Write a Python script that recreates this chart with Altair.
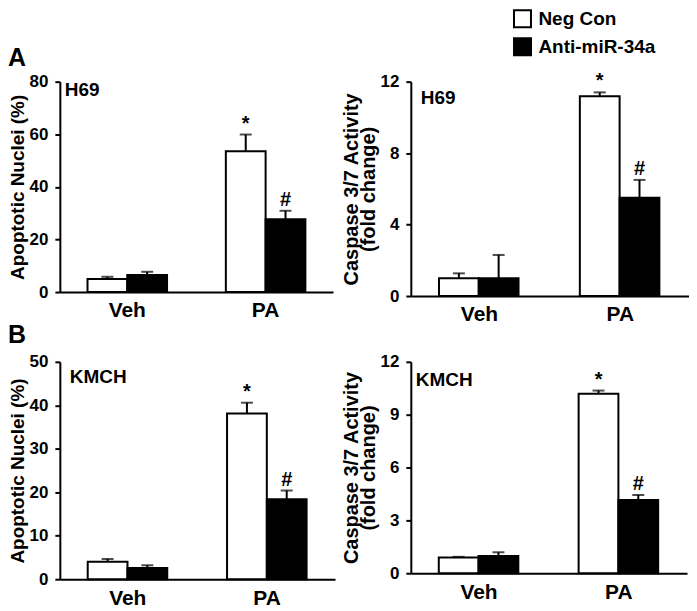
import altair as alt
import pandas as pd

FONT = "Liberation Sans"

groups = ["Veh", "Veh", "PA", "PA"]
treatments = ["Neg Con", "Anti-miR-34a", "Neg Con", "Anti-miR-34a"]
group_order = ["Veh", "PA"]
treat_order = ["Neg Con", "Anti-miR-34a"]
signif = ["", "", "*", "#"]

# Panel A, H69 apoptotic nuclei (%)
a_nuc_mean = [5.0, 6.5, 53.5, 27.7]
a_nuc_top = [5.8, 7.7, 59.9, 30.9]
# Panel A, H69 caspase 3/7 (fold change)
a_cas_mean = [1.0, 1.0, 11.18, 5.5]
a_cas_top = [1.27, 2.3, 11.4, 6.5]
# Panel B, KMCH apoptotic nuclei (%)
b_nuc_mean = [4.0, 2.6, 38.1, 18.4]
b_nuc_top = [4.65, 3.2, 40.6, 20.4]
# Panel B, KMCH caspase 3/7 (fold change)
b_cas_mean = [0.89, 0.98, 10.19, 4.16]
b_cas_top = [0.93, 1.19, 10.37, 4.44]


def panel(mean, top, ymax, ystep, ytitle, cell, width, height,
          cell_xy, title_size, letter=None, letter_xy=None, legend=False):
    df = pd.DataFrame({"group": groups, "treat": treatments,
                       "mean": mean, "top": top, "sig": signif})
    x = alt.X("group:N", sort=group_order,
              scale=alt.Scale(paddingInner=0.425, paddingOuter=0.2),
              axis=alt.Axis(title=None, labelAngle=0, ticks=False,
                            labelFontSize=21, labelPadding=8,
                            labelFontWeight="bold", labelFont=FONT))
    xo = alt.XOffset("treat:N", sort=treat_order,
                     scale=alt.Scale(paddingInner=0, paddingOuter=0))
    yscale = alt.Scale(domain=[0, ymax], nice=False, zero=True)
    y = alt.Y("mean:Q", scale=yscale,
              axis=alt.Axis(values=list(range(0, ymax + 1, ystep)),
                            title=ytitle, titleFontSize=title_size,
                            titleLineHeight=17, titleFont=FONT,
                            titleFontWeight="bold", labelFont=FONT,
                            labelFontWeight="bold",
                            labelFontSize=17, titlePadding=2,
                            labelPadding=7))
    if legend:
        leg = alt.Legend(title=None, orient="none", legendX=102, legendY=-73,
                         symbolType="square", symbolSize=290,
                         symbolStrokeColor="black", symbolStrokeWidth=2,
                         labelFontSize=19, labelFontWeight="bold",
                         labelFont=FONT, labelColor="black",
                         rowPadding=2, labelOffset=6, padding=0)
    else:
        leg = None
    fill = alt.Fill("treat:N", sort=treat_order,
                    scale=alt.Scale(domain=treat_order, range=["white", "black"]),
                    legend=leg)
    base = alt.Chart(df)
    bars = base.mark_bar(stroke="black", strokeWidth=2).encode(
        x=x, xOffset=xo, y=y, fill=fill)
    err = base.mark_rule(color="black", strokeWidth=2).encode(
        x=x, xOffset=xo, y=alt.Y("mean:Q", scale=yscale), y2="top:Q")
    cap = base.mark_tick(color="black", thickness=2, size=12).encode(
        x=x, xOffset=xo, y=alt.Y("top:Q", scale=yscale))
    sig = base.mark_text(baseline="bottom", dy=-1, fontSize=20,
                         fontWeight="bold", font=FONT, color="black").encode(
        x=x, xOffset=xo, y=alt.Y("top:Q", scale=yscale), text="sig:N")
    lab = alt.Chart(pd.DataFrame({"t": [cell]})).mark_text(
        align="left", baseline="top", fontSize=19, fontWeight="bold",
        font=FONT, color="black").encode(
        x=alt.value(cell_xy[0]), y=alt.value(cell_xy[1]), text="t:N")
    layers = [bars, err, cap, sig, lab]
    if letter:
        let = alt.Chart(pd.DataFrame({"t": [letter]})).mark_text(
            align="left", baseline="top", fontSize=25, fontWeight="bold",
            font=FONT, color="black").encode(
            x=alt.value(letter_xy[0]), y=alt.value(letter_xy[1]), text="t:N")
        layers.append(let)
    return alt.layer(*layers).properties(width=width, height=height)


p1 = panel(a_nuc_mean, a_nuc_top, 80, 20, "Apoptotic Nuclei (%)", "H69",
           274, 211, (5, -1), 19, letter="A", letter_xy=(-52, -36))
p2 = panel(a_cas_mean, a_cas_top, 12, 4,
           ["Caspase 3/7 Activity", "(fold change)"], "H69",
           279, 215, (10, 7), 20, legend=True)
p3 = panel(b_nuc_mean, b_nuc_top, 50, 10, "Apoptotic Nuclei (%)", "KMCH",
           276, 218, (10, 6), 19, letter="B", letter_xy=(-52, -39))
p4 = panel(b_cas_mean, b_cas_top, 12, 3,
           ["Caspase 3/7 Activity", "(fold change)"], "KMCH",
           277, 212, (5, 9), 20)

chart = alt.concat(p1, p2, p3, p4, columns=2,
                   spacing={"row": 66, "column": 76},
                   bounds="flush").resolve_scale(
    fill="independent", y="independent", x="independent"
).resolve_legend(fill="independent").properties(padding=0).configure(
    font=FONT
).configure_axis(
    domainColor="black", domainWidth=2, tickColor="black", tickWidth=2,
    tickSize=5, labelColor="black", titleColor="black", grid=False,
    labelFont=FONT, titleFont=FONT, labelFontWeight="bold",
    titleFontWeight="bold"
).configure_view(stroke=None)

chart.save("out.html", embed_options={"renderer": "svg", "actions": False})
